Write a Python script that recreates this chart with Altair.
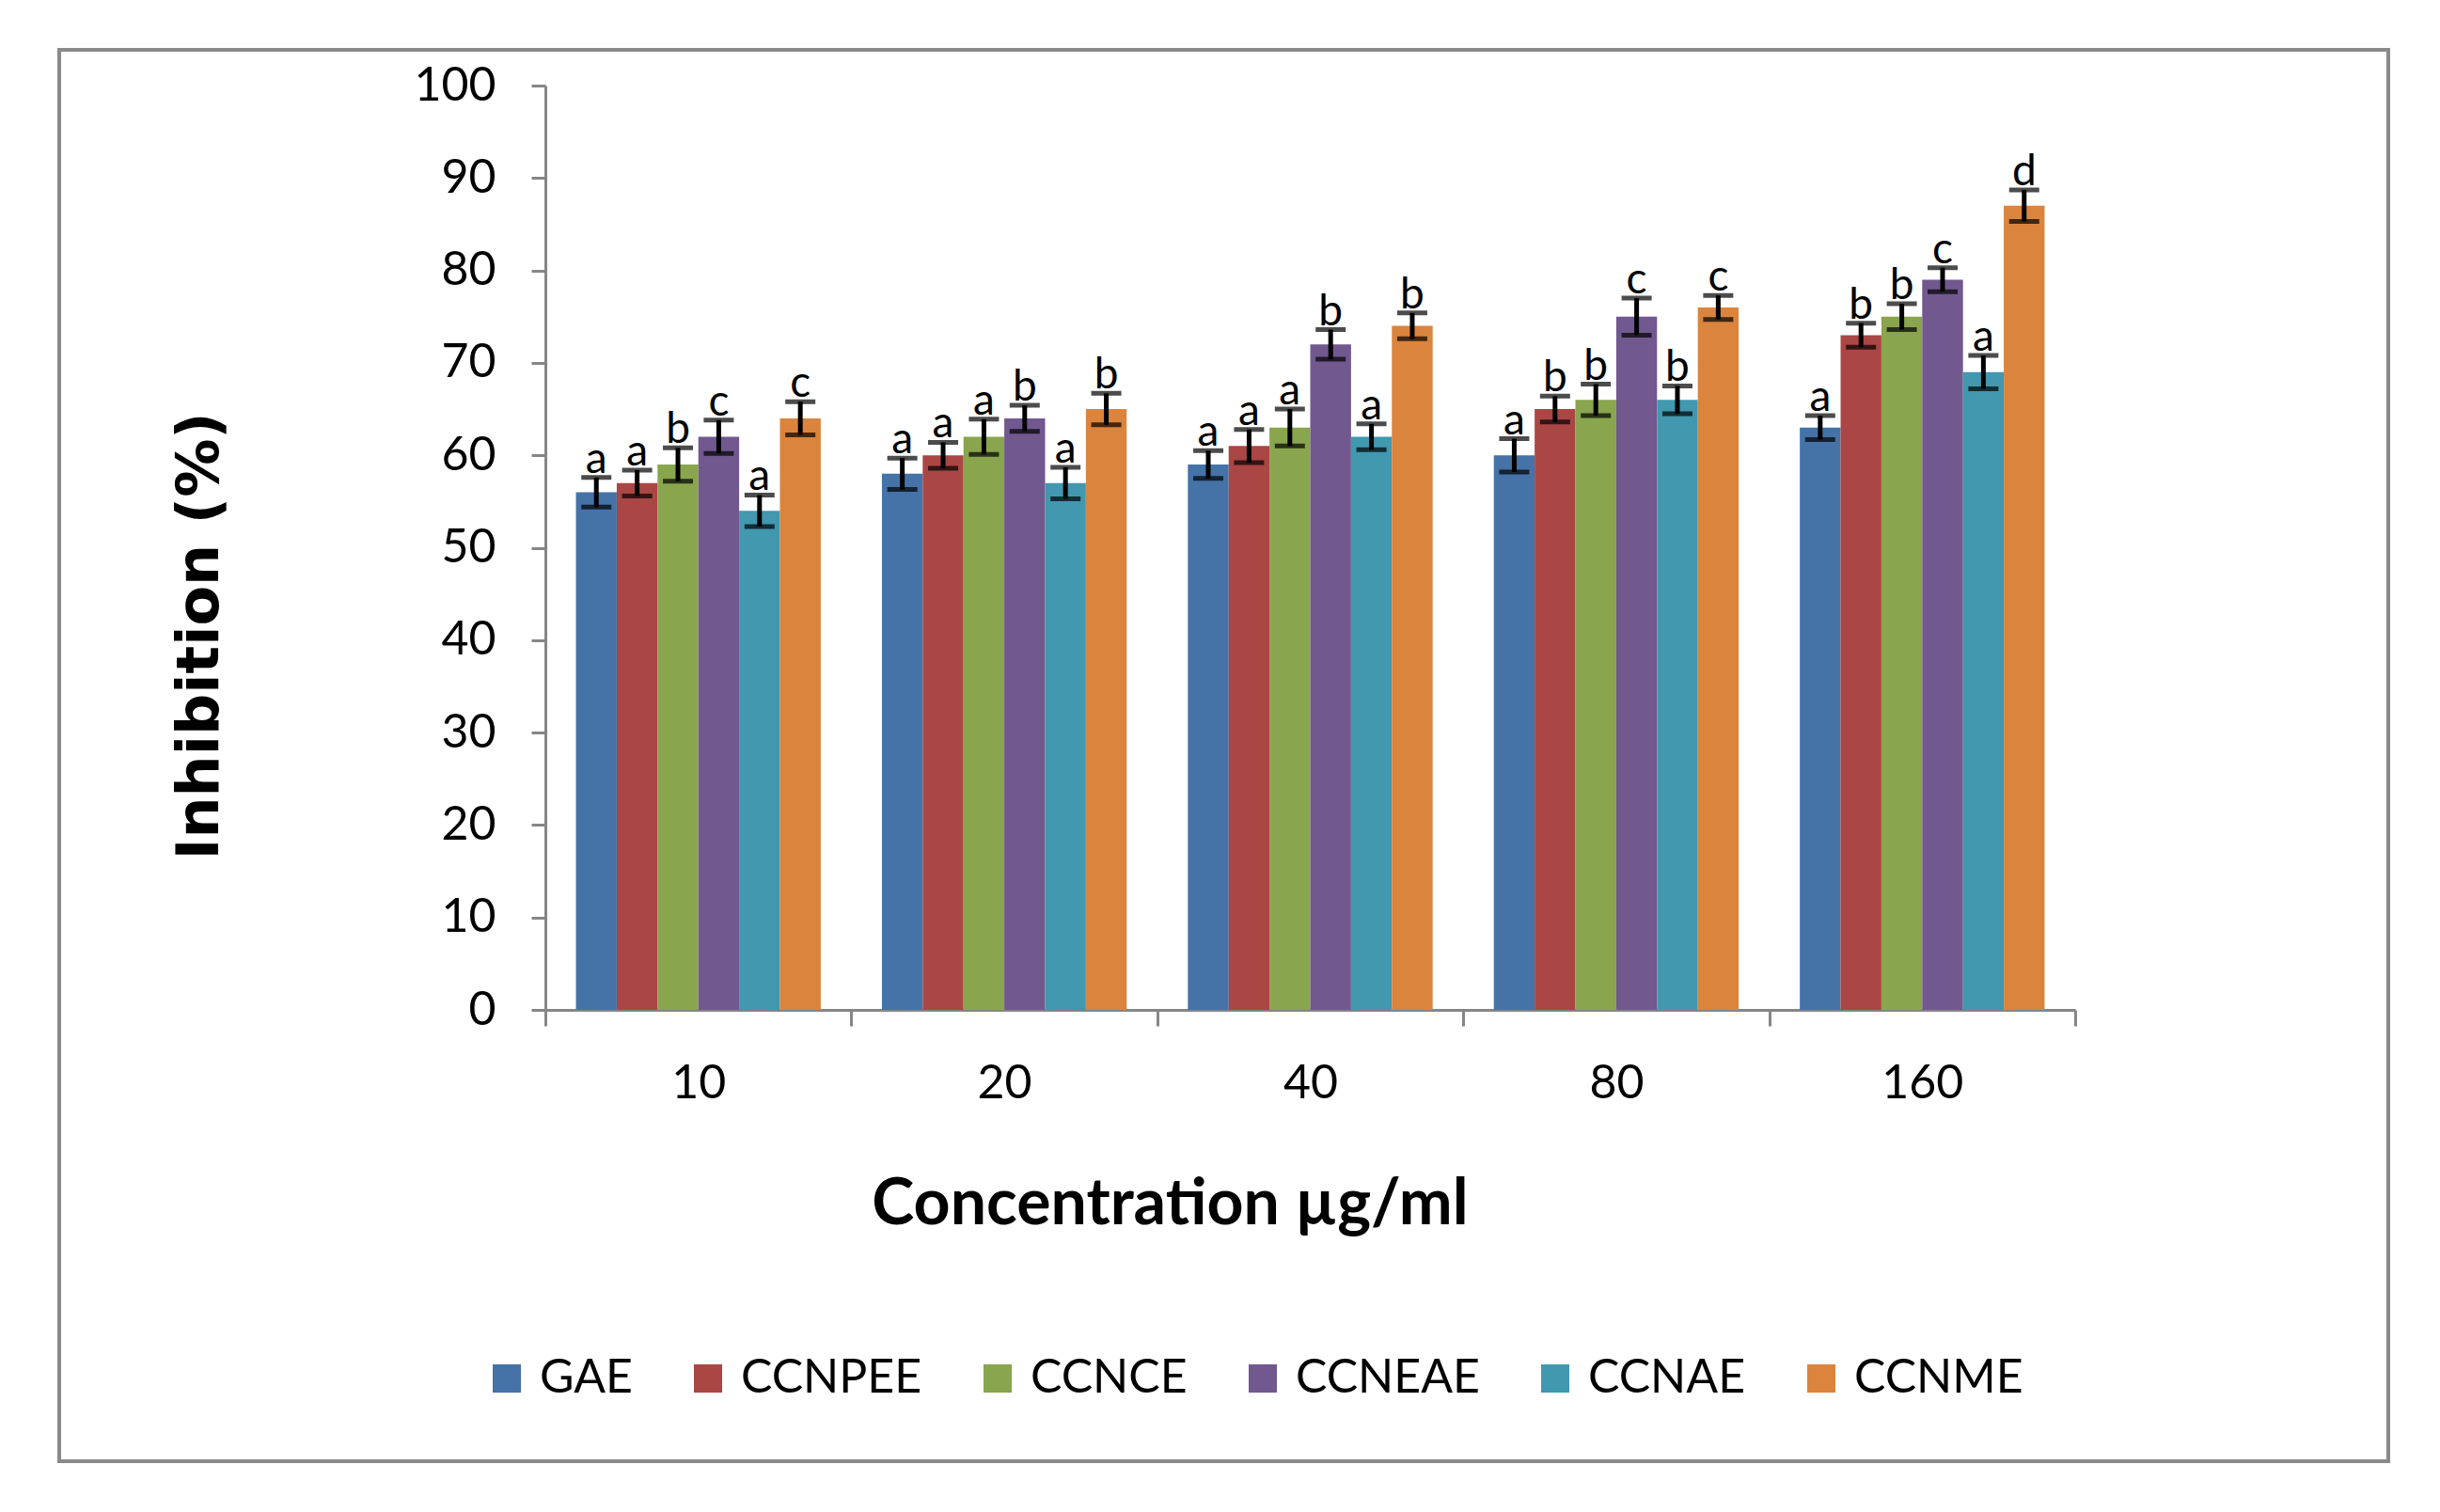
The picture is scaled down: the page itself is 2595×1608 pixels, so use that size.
import altair as alt
import pandas as pd

concentrations = ["10", "20", "40", "80", "160"]
extracts = ["GAE", "CCNPEE", "CCNCE", "CCNEAE", "CCNAE", "CCNME"]
colors = ["#4572A7", "#AA4643", "#89A54E", "#71588F", "#4198AF", "#DB843D"]

gae = [56, 58, 59, 60, 63]
ccnpee = [57, 60, 61, 65, 73]
ccnce = [59, 62, 63, 66, 75]
ccneae = [62, 64, 72, 75, 79]
ccnae = [54, 57, 62, 66, 69]
ccnme = [64, 65, 74, 76, 87]

err_gae = [1.6, 1.7, 1.5, 1.8, 1.3]
err_ccnpee = [1.4, 1.4, 1.8, 1.4, 1.3]
err_ccnce = [1.8, 1.9, 2.0, 1.7, 1.4]
err_ccneae = [1.8, 1.4, 1.6, 2.0, 1.3]
err_ccnae = [1.7, 1.7, 1.4, 1.5, 1.8]
err_ccnme = [1.8, 1.7, 1.4, 1.3, 1.7]

let_gae = ["a", "a", "a", "a", "a"]
let_ccnpee = ["a", "a", "a", "b", "b"]
let_ccnce = ["b", "a", "a", "b", "b"]
let_ccneae = ["c", "b", "b", "c", "c"]
let_ccnae = ["a", "a", "a", "b", "a"]
let_ccnme = ["c", "b", "b", "c", "d"]

values = [gae, ccnpee, ccnce, ccneae, ccnae, ccnme]
errors = [err_gae, err_ccnpee, err_ccnce, err_ccneae, err_ccnae, err_ccnme]
letters = [let_gae, let_ccnpee, let_ccnce, let_ccneae, let_ccnae, let_ccnme]

rows = []
for e, vals, errs, lets in zip(extracts, values, errors, letters):
    for c, v, er, l in zip(concentrations, vals, errs, lets):
        rows.append({"conc": c, "extract": e, "value": v,
                     "lo": v - er, "hi": v + er, "letter": l})
df = pd.DataFrame(rows)

GRAY = "#868686"

x_axis = alt.Axis(
    tickBand="extent", labelAngle=0, labelFont="Lato", labelFontSize=50,
    labelColor="#000000", labelPadding=36,
    domainColor=GRAY, domainWidth=3, tickColor=GRAY, tickWidth=3, tickSize=17,
    title="Concentration µg/ml", titleFont="Lato", titleFontSize=68,
    titleFontWeight="bold", titleColor="#000000",
    titleX=664, titleY=207, titleBaseline="middle", titleAlign="center",
)
y_axis = alt.Axis(
    values=list(range(0, 101, 10)), grid=False,
    labelFont="Lato", labelFontSize=50, labelColor="#000000", labelPadding=38,
    domainColor=GRAY, domainWidth=3, tickColor=GRAY, tickWidth=3, tickSize=15,
    title="Inhibition (%)", titleFont="DejaVu Sans", titleFontSize=62,
    titleFontWeight="bold", titleColor="#000000", titleAngle=270,
    titleX=-368, titleY=585, titleBaseline="middle", titleAlign="center",
)

x_enc = alt.X("conc:N", sort=concentrations,
              scale=alt.Scale(paddingInner=0, paddingOuter=0), axis=x_axis)
xo_enc = alt.XOffset("extract:N", sort=extracts,
                     scale=alt.Scale(paddingInner=0, paddingOuter=0.75))
y_scale = alt.Scale(domain=[0, 100], nice=False)

base = alt.Chart(df)

bars = base.mark_bar().encode(
    x=x_enc,
    xOffset=xo_enc,
    y=alt.Y("value:Q", scale=y_scale, axis=y_axis),
    color=alt.Color(
        "extract:N", sort=extracts,
        scale=alt.Scale(domain=extracts, range=colors),
        legend=alt.Legend(
            orient="none", legendX=-66, legendY=1350, direction="horizontal",
            title=None, symbolType="square", symbolSize=900,
            symbolStrokeWidth=0, labelFont="Lato", labelFontSize=50,
            labelColor="#000000", labelOffset=10, columnPadding=55,
            labelLimit=0,
        ),
    ),
)

rules = base.mark_rule(color="black", strokeWidth=5).encode(
    x=x_enc, xOffset=xo_enc,
    y=alt.Y("lo:Q", scale=y_scale, axis=y_axis), y2="hi:Q",
)
tick_lo = base.mark_tick(color="black", size=32, thickness=5).encode(
    x=x_enc, xOffset=xo_enc, y=alt.Y("lo:Q", scale=y_scale, axis=y_axis),
)
tick_hi = base.mark_tick(color="black", size=32, thickness=5).encode(
    x=x_enc, xOffset=xo_enc, y=alt.Y("hi:Q", scale=y_scale, axis=y_axis),
)
labels = base.mark_text(font="Lato", fontSize=46, color="#000000",
                        baseline="alphabetic", dy=-5).encode(
    x=x_enc, xOffset=xo_enc, y=alt.Y("hi:Q", scale=y_scale, axis=y_axis),
    text="letter:N",
)

border = alt.Chart(pd.DataFrame({"k": [0]})).mark_rect(
    fill=None, stroke="#8a8a8a", strokeWidth=4
).encode(
    x=alt.value(-517), x2=alt.value(1960),
    y=alt.value(-38), y2=alt.value(1463),
)

chart = alt.layer(border, bars, rules, tick_lo, tick_hi, labels).properties(
    width=1627, height=983,
    padding={"left": 572, "top": 83, "right": 360, "bottom": 510},
    autosize=alt.AutoSizeParams(type="none"),
    background="white",
).configure_view(stroke=None)

chart.save("out.html", embed_options={"renderer": "svg", "actions": False})
